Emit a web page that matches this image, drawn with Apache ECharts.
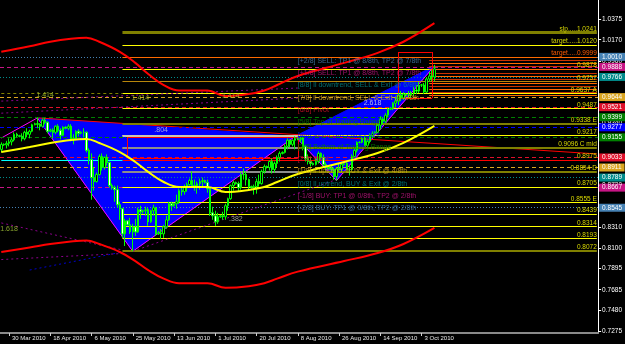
<!DOCTYPE html>
<html><head><meta charset="utf-8">
<script src="https://cdn.jsdelivr.net/npm/echarts@6/dist/echarts.min.js"></script>
<style>html,body{margin:0;padding:0;background:#000;overflow:hidden}#c{width:625px;height:344px}</style>
</head><body><div id="c"></div>
<script>
// ---------------- DATA ----------------
const firstDay = '2010-03-26';     // first bar (daily bars, Saturdays skipped)
const barCount = 232;
const dateTicks = ['30 Mar 2010','18 Apr 2010','6 May 2010','25 May 2010','13 Jun 2010','1 Jul 2010','20 Jul 2010','8 Aug 2010','26 Aug 2010','14 Sep 2010','3 Oct 2010'];
const priceTicks = [1.0375,1.0170,0.9960,0.9340,0.8720,0.8310,0.8100,0.7895,0.7685,0.7480,0.7275];

// daily bars [open, close, low, high]
const ohlc = [
[.9080,.9130,.9050,.9150],[.9130,.9125,.9115,.9140],[.9125,.9140,.9090,.9165],[.9140,.9155,.9110,.9190],[.9155,.9175,.9120,.9200],
[.9175,.9230,.9160,.9250],[.9230,.9215,.9200,.9245],[.9215,.9210,.9200,.9225],[.9210,.9185,.9160,.9240],[.9185,.9250,.9170,.9265],
[.9250,.9230,.9200,.9290],[.9230,.9260,.9190,.9275],[.9260,.9325,.9250,.9335],[.9325,.9335,.9320,.9345],[.9335,.9330,.9290,.9395],
[.9330,.9310,.9270,.9340],[.9310,.9370,.9300,.9385],[.9370,.9350,.9330,.9390],[.9350,.9260,.9240,.9360],[.9260,.9270,.9250,.9285],
[.9270,.9250,.9190,.9290],[.9250,.9310,.9230,.9320],[.9310,.9270,.9250,.9330],[.9270,.9220,.9180,.9290],[.9220,.9300,.9210,.9310],
[.9300,.9290,.9280,.9310],[.9290,.9310,.9270,.9330],[.9310,.9180,.9160,.9330],[.9180,.9190,.9130,.9230],[.9190,.9260,.9170,.9270],
[.9260,.9240,.9210,.9280],[.9240,.9250,.9230,.9260],[.9250,.9250,.9200,.9290],[.9250,.9070,.9050,.9260],[.9070,.8980,.8930,.9090],
[.8980,.8800,.8580,.9040],[.8800,.8760,.8670,.8900],[.8760,.8830,.8750,.8850],[.8830,.9010,.8820,.9030],[.9010,.8900,.8870,.9040],
[.8900,.9000,.8880,.9010],[.9000,.8950,.8920,.9030],[.8950,.8720,.8700,.8960],[.8720,.8700,.8680,.8740],[.8700,.8680,.8560,.8720],
[.8680,.8530,.8500,.8720],[.8530,.8490,.8380,.8560],[.8490,.8240,.8200,.8500],[.8240,.8370,.8120,.8390],[.8370,.8330,.8320,.8380],
[.8330,.8260,.8240,.8400],[.8260,.8310,.8067,.8340],[.8310,.8260,.8220,.8390],[.8260,.8480,.8250,.8500],[.8480,.8460,.8390,.8520],
[.8460,.8470,.8440,.8480],[.8470,.8480,.8420,.8510],[.8480,.8360,.8320,.8500],[.8360,.8470,.8350,.8480],[.8470,.8500,.8420,.8530],
[.8500,.8240,.8220,.8510],[.8240,.8250,.8230,.8270],[.8250,.8240,.8190,.8290],[.8240,.8310,.8200,.8330],[.8310,.8380,.8290,.8420],
[.8380,.8540,.8370,.8560],[.8540,.8520,.8470,.8560],[.8520,.8540,.8510,.8550],[.8540,.8560,.8490,.8630],[.8560,.8670,.8540,.8690],
[.8670,.8660,.8620,.8700],[.8660,.8700,.8630,.8730],[.8700,.8730,.8660,.8750],[.8730,.8770,.8720,.8790],[.8770,.8720,.8700,.8860],
[.8720,.8700,.8670,.8780],[.8700,.8740,.8640,.8760],[.8740,.8760,.8680,.8790],[.8760,.8770,.8700,.8800],[.8770,.8750,.8740,.8780],
[.8750,.8690,.8650,.8780],[.8690,.8450,.8420,.8700],[.8450,.8420,.8380,.8510],[.8420,.8360,.8320,.8470],[.8360,.8410,.8340,.8450],
[.8410,.8420,.8400,.8430],[.8420,.8410,.8380,.8460],[.8410,.8520,.8380,.8540],[.8520,.8590,.8470,.8600],[.8590,.8720,.8580,.8730],
[.8720,.8750,.8670,.8770],[.8750,.8740,.8730,.8760],[.8740,.8700,.8660,.8760],[.8700,.8830,.8680,.8850],[.8830,.8830,.8780,.8890],
[.8830,.8780,.8720,.8860],[.8780,.8710,.8670,.8790],[.8710,.8700,.8690,.8720],[.8700,.8710,.8630,.8730],[.8710,.8760,.8640,.8790],
[.8760,.8740,.8710,.8830],[.8740,.8860,.8730,.8880],[.8860,.8910,.8840,.8930],[.8910,.8900,.8890,.8920],[.8900,.8960,.8870,.8970],
[.8960,.8880,.8840,.8990],[.8880,.8940,.8850,.8960],[.8940,.9000,.8900,.9020],[.9000,.9040,.8960,.9060],[.9040,.9050,.9030,.9060],
[.9050,.9110,.9040,.9130],[.9110,.9170,.9080,.9190],[.9170,.9130,.9100,.9180],[.9130,.9170,.9110,.9180],[.9170,.9190,.9080,.9210],
[.9190,.9180,.9170,.9200],[.9180,.9190,.9150,.9200],[.9190,.9110,.9070,.9200],[.9110,.8990,.8960,.9120],[.8990,.8960,.8930,.9030],
[.8960,.8940,.8910,.9000],[.8940,.8930,.8920,.8950],[.8930,.8960,.8920,.8990],[.8960,.9040,.8940,.9060],[.9040,.9000,.8980,.9050],
[.9000,.8930,.8900,.9030],[.8930,.8900,.8870,.8950],[.8900,.8890,.8880,.8910],[.8890,.8880,.8860,.8930],[.8880,.8810,.8780,.8900],
[.8810,.8890,.8770,.8900],[.8890,.8880,.8860,.8940],[.8880,.8930,.8860,.8950],[.8930,.8940,.8920,.8950],[.8940,.8880,.8870,.8970],
[.8880,.8880,.8820,.8920],[.8880,.9010,.8870,.9030],[.9010,.9070,.9000,.9090],[.9070,.9150,.9050,.9160],[.9150,.9150,.9140,.9160],
[.9150,.9190,.9140,.9200],[.9190,.9120,.9110,.9210],[.9120,.9160,.9090,.9180],[.9160,.9220,.9140,.9240],[.9220,.9240,.9200,.9260],
[.9240,.9250,.9230,.9260],[.9250,.9320,.9240,.9330],[.9320,.9380,.9280,.9410],[.9380,.9360,.9330,.9400],[.9360,.9420,.9340,.9440],
[.9420,.9480,.9400,.9490],[.9480,.9490,.9470,.9500],[.9490,.9540,.9470,.9550],[.9540,.9560,.9500,.9600],[.9560,.9620,.9520,.9640],
[.9620,.9590,.9560,.9660],[.9590,.9630,.9570,.9650],[.9630,.9620,.9610,.9640],[.9620,.9620,.9590,.9660],[.9620,.9640,.9590,.9660],
[.9640,.9670,.9610,.9700],[.9670,.9660,.9630,.9720],[.9660,.9720,.9640,.9750],[.9720,.9720,.9700,.9730],[.9720,.9650,.9630,.9740],
[.9650,.9780,.9640,.9800],[.9780,.9810,.9750,.9850],[.9810,.9800,.9760,.9870],[.9800,.9880,.9760,.9920]
];

// moving average (read at points)
const maIdx = [0,11,19,27,33,38,46,52,57,63,69,80,87,96,102,107,115,133,146,156,168];
const maVal = [0.9054,0.9104,0.9144,0.9174,0.9184,0.9144,0.9054,0.8955,0.8856,0.8756,0.8706,0.8706,0.8657,0.8677,0.8706,0.8756,0.8836,0.8955,0.9044,0.9144,0.9313];

// envelope bands (read at points)
const upIdx = [0,11,19,27,33,38,46,52,57,63,69,80,87,96,102,107,115,133,146,156,168];
const upVal = [1.0050,1.0105,1.0150,1.0180,1.0190,1.0150,1.0050,0.9940,0.9830,0.9720,0.9665,0.9665,0.9610,0.9630,0.9665,0.9720,0.9810,0.9940,1.0040,1.0150,1.0335];
const loIdx = [0,11,19,27,33,38,46,52,57,63,69,80,87,96,102,107,115,133,146,156,168];
const loVal = [0.8060,0.8105,0.8140,0.8165,0.8175,0.8140,0.8060,0.7970,0.7880,0.7795,0.7750,0.7750,0.7705,0.7720,0.7750,0.7795,0.7865,0.7970,0.8050,0.8140,0.8300];

// zigzag / harmonic pattern points
const zigIdx = [0,14,51,114,130,168];
const zigVal = [0.9193,0.9393,0.8067,0.9210,0.8770,0.9910];
const triangles = [[1,2,3],[3,4,5]];

// Murrey math levels
const mmLevels = [1.0010,0.9888,0.9766,0.9644,0.9521,0.9399,0.9277,0.9155,0.9033,0.8911,0.8789,0.8667,0.8545];
const mmTexts = ['[+2/8] SELL: TP1 @ 8/8th, TP2 @ 7/8th','[+1/8] SELL: TP1 @ 8/8th, TP2 @ 7/8th','[8/8] ll downtrend, SELL & Exit @ 6/8th','[7/8] ll downtrend, SELL & Exit @ 4/8th','[6/8] Pivot','[5/8] Top of Trading Range','[4/8] Major S/R Pivot Point','[3/8] Bottom of Trading Range','[2/8] Pivot','[1/8] ll uptrend, BUY & Exit @ 4/8th','[0/8] ll uptrend, BUY & Exit @ 2/8th','[-1/8] BUY: TP1 @ 0/8th, TP2 @ 2/8th','[-2/8] BUY: TP1 @ 0/8th, TP2 @ 2/8th'];
const mmTextIdx = 115;
const cyanLevel = 0.8975;

// Fibonacci / target levels
const fibLevels = [1.0241,1.0120,0.9999,0.9878,0.9757,0.9637,0.9487,0.9338,0.9217,0.9096,0.8975,0.8854,0.8705,0.8555,0.8439,0.8314,0.8193,0.8072];
const fibLabels = ['slp.....1.0241','target.....1.0120','target.....0.9999','0.9878','0.9757','0.9637 A','0.9487','0.9338 E','0.9217','0.9096 C mid','0.8975','0.8854 D','0.8705','0.8555 E','0.8439','0.8314','0.8193','0.8072'];
const fibStartIdx = 47;
const grayLevels = [0.9217,0.9096,0.8854];
const grayEndIdx = 115;

// stacked target lines at the right
const targetLevels = [1.0000,0.9968,0.9937,0.9905,0.9872,0.9840,0.9808,0.9776,0.9742,0.9710,0.9678,0.9646,0.9614];
const targetStartIdx = 166;

// dotted trend lines [[idx0, val0], [idx1, val1]]
const trendLines = [
  [[51,0.8067],[130,0.8780]],
  [[0,0.8349],[47,0.8080]],
  [[0,0.7985],[47,0.8045]],
  [[0,0.9560],[115,0.9690]],
  [[0,0.9440],[115,0.9590]]
];
const blueTrend = [[11,0.7881],[47,0.8060]];
const dashLevel = 0.9637;

// fib ratio tags
const tagText = ['1.414','1.414','1.414','2.618','.804','.382','1.618'];
const tagIdx = [17,54,89,144,62,91,3];
const tagVal = [0.9621,0.9591,0.9611,0.9541,0.9273,0.8388,0.8289];

// boxes
const boxIdx = [[49,115],[154,167]];
const boxVal = [[0.9203,0.8995],[1.0048,0.9591]];

// ---------------- STYLE ----------------
const mmColors = ['#4682b4','#c71585','#008b8b','#daa520','#e0102a','#008000','#0000ff','#008000','#e0102a','#daa520','#008b8b','#c71585','#4682b4'];
const mmDash = [[1,2],[4,3],[1,2],[4,3],[4,3],[4,3],[4,3],[4,3],[4,3],[4,3],[1,2],[4,3],[1,2]];
const fibColors = ['#808000','#ffff00','#ff6a00','#ffff00','#b8860b','#ffff00','#ffff00','#808000','#ffff00','#808000','#ff0000','#808000','#ffff00','#ffff00','#ffff00','#ffff00','#ffff00','#808000'];
const fibWidths = [3,1,1,1,1,1,1,2,1,2,1,2,1,1,1,1,1,2];
const tagColors = ['#a8c838','#a8c838','#a8c838','#e0e0e0','#d0d0d0','#c0c0c0','#a8c838'];
const FONT = 'Liberation Sans';

// ---------------- BUILD ----------------
const MONTHS = ['Jan','Feb','Mar','Apr','May','Jun','Jul','Aug','Sep','Oct','Nov','Dec'];
const categories = [];
(function(){
  let d = new Date(firstDay + 'T12:00:00Z');
  while (categories.length < barCount) {
    if (d.getUTCDay() !== 6) categories.push(d.getUTCDate() + ' ' + MONTHS[d.getUTCMonth()] + ' ' + d.getUTCFullYear());
    d = new Date(d.getTime() + 86400000);
  }
})();
const lastIdx = barCount - 1;
const tickFn = (i, v) => dateTicks.indexOf(v) >= 0;

const boxLabel = (txt, bg, fg) => ({show: true, position: 'end', formatter: txt, color: fg, backgroundColor: bg,
          padding: [1, 3, 0, 3], distance: 1, fontSize: 6.5, fontFamily: FONT});
const mmMark = [{yAxis: cyanLevel, lineStyle: {width: 0, opacity: 0}, label: boxLabel(cyanLevel.toFixed(4), '#00ffff', '#000')}]
  .concat(mmLevels.map((p, i) => ({
    yAxis: p,
    lineStyle: {color: mmColors[i], type: mmDash[i], width: 1},
    label: boxLabel(p.toFixed(4), mmColors[i], '#ffffff')
  })));

const seg = (a, b, ls) => [{coord: a, lineStyle: ls}, {coord: b}];
const fibMark = fibLevels.map((p, i) => [
  {coord: [fibStartIdx, p], lineStyle: {color: fibColors[i], width: fibWidths[i], type: 'solid'},
   label: {show: true, position: 'insideEndTop', formatter: fibLabels[i], color: i === 2 ? '#ff5a00' : '#d8d800',
           fontSize: 6.5, fontFamily: FONT, distance: 0}},
  {coord: [lastIdx, p]}
]);
const extraMark = []
  .concat(grayLevels.map((p, i) => seg([fibStartIdx, p], [grayEndIdx, p], {color: i === 0 ? '#c8c8b0' : '#8c8c8c', width: 2, type: 'solid'})))
  .concat(targetLevels.map((p, i) => seg([targetStartIdx, p], [lastIdx, p], {color: i % 2 ? '#c83200' : '#ff6a00', width: 1, type: 'solid'})))
  .concat([seg([0, cyanLevel], [fibStartIdx, cyanLevel], {color: '#00ffff', width: 1, type: 'solid'})])
  .concat([seg([0, dashLevel], [fibStartIdx, dashLevel], {color: '#808000', width: 1, type: [3, 3]})])
  .concat(trendLines.map(t => seg(t[0], t[1], {color: '#8b008b', width: 1, type: [2, 3]})))
  .concat([seg(blueTrend[0], blueTrend[1], {color: '#0000cd', width: 1, type: [2, 3]})]);

const boxMark = [];
boxIdx.forEach((b, i) => {
  const [x0, x1] = b, [y0, y1] = boxVal[i];
  boxMark.push(seg([x0, y0], [x1, y0]), seg([x1, y0], [x1, y1]), seg([x1, y1], [x0, y1]), seg([x0, y1], [x0, y0]));
});

const chart = echarts.init(document.getElementById('c'), null, {renderer: 'canvas'});
chart.setOption({
  backgroundColor: '#000000',
  animation: false,
  grid: {left: 0, right: 24, top: 0, bottom: 11},
  xAxis: {
    type: 'category', data: categories, boundaryGap: true,
    axisLine: {lineStyle: {color: '#8a8a8a', width: 2}},
    axisTick: {show: true, interval: tickFn, alignWithLabel: true, length: 3, lineStyle: {color: '#cfcfcf'}},
    axisLabel: {interval: tickFn, color: '#e8e8e8', fontSize: 6, fontFamily: FONT, align: 'left', margin: 2, padding: [0, 0, 0, 3]},
    splitLine: {show: false}
  },
  yAxis: {
    type: 'value', position: 'right', min: 0.7255, max: 1.0565, scale: true,
    axisLine: {show: true, lineStyle: {color: '#ffffff'}},
    axisTick: {show: true, length: 3, customValues: priceTicks, lineStyle: {color: '#ffffff'}},
    axisLabel: {customValues: priceTicks, color: '#ffffff', fontSize: 6.5, fontFamily: FONT, margin: 4,
                formatter: v => v.toFixed(4)},
    splitLine: {show: false}
  },
  series: [
    { // harmonic pattern triangles
      type: 'custom', z: 1, silent: true,
      data: triangles.map(t => [zigIdx[t[0]], zigVal[t[0]]]),
      renderItem: function (params, api) {
        const t = triangles[params.dataIndex];
        const pts = t.map(k => api.coord([zigIdx[k], zigVal[k]]));
        return {type: 'polygon', shape: {points: pts}, style: {fill: '#0000ff', stroke: '#0000ff'}};
      }
    },
    { type: 'line', z: 2, data: [], silent: true,
      markLine: {silent: true, symbol: 'none', animation: false, data: mmMark} },
    { type: 'line', z: 3, data: [], silent: true,
      markLine: {silent: true, symbol: 'none', animation: false, data: fibMark} },
    { type: 'line', z: 3, data: [], silent: true,
      markLine: {silent: true, symbol: 'none', animation: false, label: {show: false}, data: extraMark} },
    { type: 'line', z: 3, data: [], silent: true,
      markLine: {silent: true, symbol: 'none', animation: false, label: {show: false},
                 lineStyle: {color: '#ff0000', type: 'solid', width: 1}, data: boxMark} },
    { // zigzag legs
      type: 'line', z: 4, symbol: 'none', silent: true,
      data: zigIdx.map((x, i) => [x, zigVal[i]]),
      lineStyle: {color: '#ff00ff', width: 1}
    },
    { // X-B line
      type: 'line', z: 4, symbol: 'none', silent: true,
      data: [[zigIdx[1], zigVal[1]], [lastIdx, 0.9035]],
      lineStyle: {color: '#ff0000', width: 1}
    },
    { type: 'line', z: 5, symbol: 'none', smooth: 0.4, silent: true,
      data: upIdx.map((x, i) => [x, upVal[i]]), lineStyle: {color: '#ff0000', width: 2} },
    { type: 'line', z: 5, symbol: 'none', smooth: 0.4, silent: true,
      data: loIdx.map((x, i) => [x, loVal[i]]), lineStyle: {color: '#ff0000', width: 2} },
    {
      type: 'candlestick', z: 6, silent: true, barWidth: 2,
      data: ohlc,
      itemStyle: {color: '#000000', color0: '#ffffff', borderColor: '#00ff00', borderColor0: '#00ff00', borderWidth: 1}
    },
    { type: 'line', z: 7, symbol: 'none', smooth: 0.4, silent: true,
      data: maIdx.map((x, i) => [x, maVal[i]]), lineStyle: {color: '#ffff00', width: 2} },
    { // MM texts
      type: 'scatter', z: 8, symbolSize: 0, silent: true,
      data: mmLevels.map((p, i) => ({value: [mmTextIdx, p], label: {color: mmColors[i]}, name: mmTexts[i]})),
      label: {show: true, position: 'right', distance: 0, fontSize: 7, fontFamily: FONT, offset: [0, 5],
              formatter: p => p.name}
    },
    { // ratio tags
      type: 'scatter', z: 8, symbolSize: 0, silent: true,
      data: tagText.map((t, i) => ({value: [tagIdx[i], tagVal[i]], name: t, label: {color: tagColors[i]}})),
      label: {show: true, position: 'inside', fontSize: 7, fontFamily: FONT, formatter: p => p.name}
    }
  ]
});
</script></body></html>
